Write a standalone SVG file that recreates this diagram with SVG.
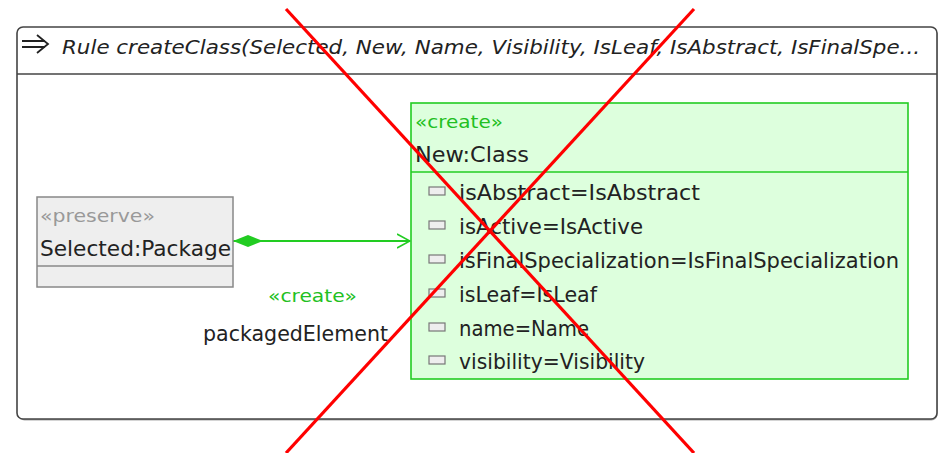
<svg xmlns="http://www.w3.org/2000/svg" width="939" height="453" viewBox="0 0 939 453">
<style>
text{font-family:"DejaVu Sans","Liberation Sans",sans-serif;fill:#222}
.st{font-size:17.5px}
.nm{font-size:20.5px}
.gr{fill:#22c022}
.gy{fill:#999}
.ic{fill:#eee;stroke:#777;stroke-width:1.2}
</style>
<defs>
<marker id="dia" viewBox="0 0 30 12" refX="0" refY="6" markerWidth="30" markerHeight="12" markerUnits="userSpaceOnUse" orient="auto">
<path d="M0,6 L15,0 L30,6 L15,12 Z" fill="#22cc22"/>
</marker>
<marker id="opn" viewBox="0 0 14 16" refX="13" refY="8" markerWidth="14" markerHeight="16" markerUnits="userSpaceOnUse" orient="auto">
<path d="M0,1 L13,8 L0,15" fill="none" stroke="#22cc22" stroke-width="1.6"/>
</marker>
</defs>
<g id="frame">
<rect x="18.5" y="28.5" width="919" height="392" rx="6" fill="#555" opacity="0.5"/>
<rect x="17" y="27" width="920" height="392" rx="6" fill="#fff" stroke="#444" stroke-width="1.6"/>
<line x1="17" y1="74" x2="937" y2="74" stroke="#444" stroke-width="1.6"/>
<path d="M22,41 H45 M22,47 H45 M37,35 L48,44 L37,53" fill="none" stroke="#222" stroke-width="1.8"/>
<text x="62" y="54" font-size="19.5" font-style="italic" fill="#333" textLength="858" lengthAdjust="spacingAndGlyphs">Rule createClass(Selected, New, Name, Visibility, IsLeaf, IsAbstract, IsFinalSpe...</text>
</g>
<g id="connectors">
<line x1="233" y1="241" x2="410" y2="241" stroke="#22cc22" stroke-width="2" marker-start="url(#dia)" marker-end="url(#opn)"/>
<text class="st gr" x="268" y="302" textLength="89" lengthAdjust="spacingAndGlyphs">«create»</text>
<text class="nm" x="203" y="341" textLength="185" lengthAdjust="spacingAndGlyphs">packagedElement</text>
</g>
<g id="selected">
<rect x="37" y="197" width="196" height="90" fill="#eee" stroke="#888" stroke-width="1.5"/>
<line x1="37" y1="266" x2="233" y2="266" stroke="#888" stroke-width="1.5"/>
<text class="st gy" x="40" y="222" textLength="115" lengthAdjust="spacingAndGlyphs">«preserve»</text>
<text class="nm" x="40" y="256" textLength="191" lengthAdjust="spacingAndGlyphs">Selected:Package</text>
</g>
<g id="new">
<rect x="411" y="103" width="497" height="276" fill="#ddffdd" stroke="#22cc22" stroke-width="1.6"/>
<line x1="411" y1="172" x2="908" y2="172" stroke="#22cc22" stroke-width="1.6"/>
<text class="st gr" x="415" y="128" textLength="88" lengthAdjust="spacingAndGlyphs">«create»</text>
<text class="nm" x="415" y="162" textLength="114" lengthAdjust="spacingAndGlyphs">New:Class</text>
<rect class="ic" x="429" y="187" width="16" height="8"/>
<text class="nm" x="459" y="200" textLength="241" lengthAdjust="spacingAndGlyphs">isAbstract=IsAbstract</text>
<rect class="ic" x="429" y="221" width="16" height="8"/>
<text class="nm" x="459" y="234" textLength="184" lengthAdjust="spacingAndGlyphs">isActive=IsActive</text>
<rect class="ic" x="429" y="255" width="16" height="8"/>
<text class="nm" x="459" y="268" textLength="440" lengthAdjust="spacingAndGlyphs">isFinalSpecialization=IsFinalSpecialization</text>
<rect class="ic" x="429" y="289" width="16" height="8"/>
<text class="nm" x="459" y="302" textLength="138" lengthAdjust="spacingAndGlyphs">isLeaf=IsLeaf</text>
<rect class="ic" x="429" y="323" width="16" height="8"/>
<text class="nm" x="459" y="336" textLength="130" lengthAdjust="spacingAndGlyphs">name=Name</text>
<rect class="ic" x="429" y="356" width="16" height="8"/>
<text class="nm" x="459" y="369" textLength="186" lengthAdjust="spacingAndGlyphs">visibility=Visibility</text>
</g>
<g id="cross" stroke="#ff0000" stroke-width="3.2" stroke-linecap="butt">
<line x1="286" y1="9" x2="694" y2="453"/>
<line x1="694" y1="9" x2="286" y2="453"/>
</g>
</svg>
